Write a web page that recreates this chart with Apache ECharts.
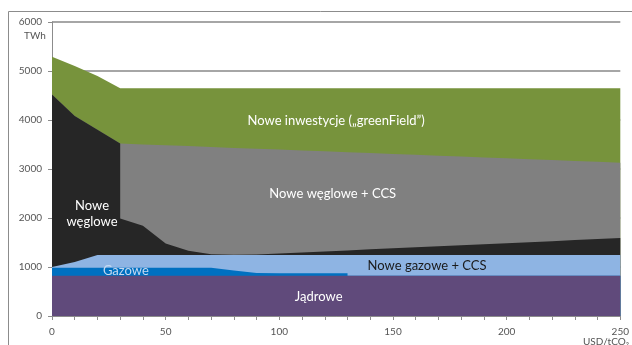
<!DOCTYPE html>
<html>
<head>
<meta charset="utf-8">
<script src="https://cdn.jsdelivr.net/npm/echarts@6/dist/echarts.min.js"></script>
<style>
  html, body { margin: 0; padding: 0; background: #fff; }
  #chart { width: 632px; height: 345px; }
</style>
</head>
<body>
<div id="chart"></div>
<script>
// USD/tCO2 — 30 and 130 appear twice so the steps stay vertical
const xVals = [0, 10, 20, 30, 30, 40, 50, 60, 70, 80, 90, 100, 110, 120, 130, 130,
  140, 150, 160, 170, 180, 190, 200, 210, 220, 230, 240, 250];

// TWh, thickness of each band (stacked bottom -> top)
const jadrowe = [820, 820, 820, 820, 820, 820, 820, 820, 820, 820, 820, 820, 820, 820, 820, 820,
  820, 820, 820, 820, 820, 820, 820, 820, 820, 820, 820, 820];
const gazowe = [165, 165, 165, 165, 165, 165, 165, 165, 165, 110, 60, 50, 50, 50, 50, 0,
  0, 0, 0, 0, 0, 0, 0, 0, 0, 0, 0, 0];
const noweGazoweCCS = [15, 115, 260, 260, 260, 260, 260, 260, 260, 315, 365, 375, 375, 375, 375, 425,
  425, 425, 425, 425, 425, 425, 425, 425, 425, 425, 425, 425];
const noweWeglowe = [3520, 2980, 2555, 2275, 745, 595, 235, 85, 17, 7, 10, 31, 52, 73, 94, 94,
  115, 136, 157, 178, 199, 220, 241, 262, 283, 304, 325, 346];
const noweWegloweCCS = [0, 0, 0, 0, 1530, 1662, 2005, 2137, 2187, 2179, 2159, 2120, 2081, 2042, 2004, 2004,
  1965, 1926, 1887, 1849, 1810, 1771, 1732, 1694, 1655, 1616, 1577, 1539];
const noweInwestycje = [770, 1020, 1100, 1130, 1130, 1148, 1165, 1183, 1201, 1219, 1236, 1254, 1272, 1290, 1307, 1307,
  1325, 1343, 1361, 1378, 1396, 1414, 1432, 1449, 1467, 1485, 1503, 1520];

const yTicks = [0, 1000, 2000, 3000, 4000, 5000, 6000];
const xLabelEvery = 50;

const FONT = 'Lato, "Open Sans", sans-serif';

const bands = [
  { name: 'Jądrowe', data: jadrowe, color: '#604A7B' },
  { name: 'Gazowe', data: gazowe, color: '#0070C0' },
  { name: 'Nowe gazowe + CCS', data: noweGazoweCCS, color: '#8EB4E3' },
  { name: 'Nowe węglowe', data: noweWeglowe, color: '#262626' },
  { name: 'Nowe węglowe + CCS', data: noweWegloweCCS, color: '#808080' },
  { name: 'Nowe inwestycje', data: noweInwestycje, color: '#77933C' }
];

// label text, anchor in data coords, colour
const labels = [
  { text: 'Nowe inwestycje (\u201EgreenField\u201D)', at: [125, 3980], color: '#fff' },
  { text: 'Nowe węglowe + CCS', at: [123.5, 2490], color: '#fff' },
  { text: 'Nowe\nwęglowe', at: [17.6, 2080], color: '#fff' },
  { text: 'Gazowe', at: [32.5, 925], color: '#C6D9F1' },
  { text: 'Nowe gazowe + CCS', at: [165, 1020], color: '#1a1a1a' },
  { text: 'Jądrowe', at: [117.3, 390], color: '#fff' }
];

// running totals: top edge of every band
const tops = [];
let running = xVals.map(() => 0);
bands.forEach((b) => {
  running = running.map((s, i) => s + b.data[i]);
  tops.push(running);
});

const chart = echarts.init(document.getElementById('chart'));

// each band is filled from 0 up to its top, highest band first so lower ones cover it
const series = bands.map((b, k) => ({
  name: b.name,
  type: 'line',
  symbol: 'none',
  lineStyle: { width: 0 },
  areaStyle: { color: b.color, opacity: 1 },
  data: xVals.map((x, i) => [x, tops[k][i]])
})).reverse();

chart.setOption({
  animation: false,
  grid: { left: 52, right: 11, top: 22, bottom: 29, containLabel: false },
  xAxis: {
    type: 'value',
    min: 0,
    max: 250,
    interval: 10,
    axisLine: { lineStyle: { color: '#8c8c8c', width: 1 } },
    axisTick: { show: true, length: 4, lineStyle: { color: '#8c8c8c' } },
    splitLine: { show: false },
    axisLabel: {
      margin: 11,
      fontSize: 10,
      fontFamily: FONT,
      color: '#555',
      formatter: (v) => (v % xLabelEvery === 0 ? String(v) : '')
    }
  },
  yAxis: {
    type: 'value',
    min: yTicks[0],
    max: yTicks[yTicks.length - 1],
    interval: 1000,
    axisLine: { show: true, lineStyle: { color: '#8c8c8c', width: 1 } },
    axisTick: { show: true, length: 4, lineStyle: { color: '#8c8c8c' } },
    splitLine: { show: true, lineStyle: { color: '#a6a6a6', width: 2 } },
    axisLabel: { margin: 10, fontSize: 10, fontFamily: FONT, color: '#555', formatter: (v) => String(v) }
  },
  series: series
});

const texts = labels.map((l) => {
  const p = chart.convertToPixel({ gridIndex: 0 }, l.at);
  return {
    type: 'text',
    x: p[0],
    y: p[1],
    z: 100,
    style: {
      text: l.text,
      fill: l.color,
      font: '13px ' + FONT,
      align: 'center',
      verticalAlign: 'middle',
      lineHeight: 16
    }
  };
});

chart.setOption({
  graphic: [
    {
      type: 'rect',
      shape: { x: 8.5, y: 11.5, width: 700, height: 400 },
      style: { fill: 'none', stroke: '#8c8c8c', lineWidth: 1 },
      z: -1,
      silent: true
    },
    {
      type: 'text', x: 35, y: 36,
      style: { text: 'TWh', fill: '#555', font: '10px ' + FONT, align: 'center', verticalAlign: 'middle' }
    },
    {
      type: 'text', x: 606, y: 342,
      style: { text: 'USD/tCO\u2082', fill: '#555', font: '10px ' + FONT, align: 'center', verticalAlign: 'middle' }
    }
  ].concat(texts)
});
</script>
</body>
</html>
